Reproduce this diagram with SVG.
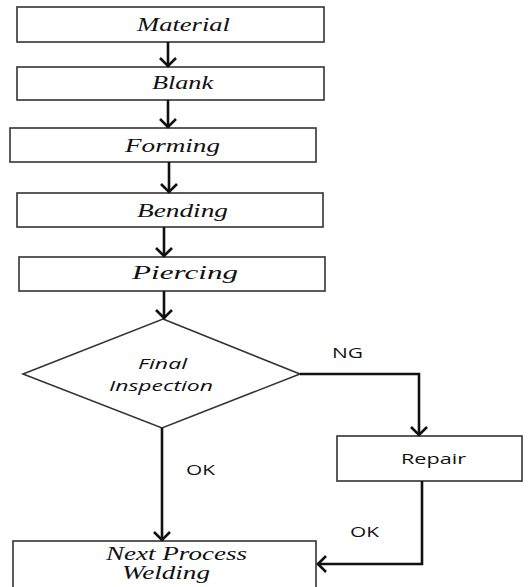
<svg xmlns="http://www.w3.org/2000/svg" width="528" height="587" viewBox="0 0 528 587">
<defs>
<marker id="ah" markerUnits="userSpaceOnUse" markerWidth="24" markerHeight="24" viewBox="-12 -12 24 24" refX="0" refY="0" orient="auto">
<path d="M -9 -8 L -1 0 L -9 8" fill="none" stroke="#111" stroke-width="2.6" stroke-linejoin="miter"/>
</marker>
<style>
.box{fill:#fff;stroke:#333;stroke-width:1.6}
.ser{font-family:"Liberation Serif","Times New Roman",serif;font-style:italic;font-size:19px;fill:#111}
.sans{font-family:"Open Sans","DejaVu Sans",sans-serif;font-size:15px;fill:#111}
.it{font-style:italic}
.con{fill:none;stroke:#111;stroke-width:2.6}
</style>
</defs>
<rect width="528" height="587" fill="#fff"/>
<g id="material"><rect class="box" x="17" y="7" width="307" height="35"/><text class="ser" x="137" y="31" textLength="93" lengthAdjust="spacingAndGlyphs">Material</text></g>
<g id="blank"><rect class="box" x="17" y="67" width="307" height="33"/><text class="ser" x="152" y="89" textLength="61" lengthAdjust="spacingAndGlyphs">Blank</text></g>
<g id="forming"><rect class="box" x="10" y="128" width="306" height="34"/><text class="ser" x="125" y="152" textLength="95" lengthAdjust="spacingAndGlyphs">Forming</text></g>
<g id="bending"><rect class="box" x="17" y="193" width="306" height="34"/><text class="ser" x="137" y="217" textLength="91" lengthAdjust="spacingAndGlyphs">Bending</text></g>
<g id="piercing"><rect class="box" x="19" y="257" width="306" height="34"/><text class="ser" x="132" y="279" textLength="106" lengthAdjust="spacingAndGlyphs">Piercing</text></g>
<g id="inspection"><polygon class="box" points="163,319 300,374 162,428 23,374"/><text class="sans it" x="138" y="369" textLength="49" lengthAdjust="spacingAndGlyphs">Final</text><text class="sans it" x="109" y="391" textLength="104" lengthAdjust="spacingAndGlyphs">Inspection</text></g>
<g id="repair"><rect class="box" x="337" y="436" width="185" height="45"/><text class="sans" x="401" y="464" textLength="65" lengthAdjust="spacingAndGlyphs">Repair</text></g>
<g id="next"><rect class="box" x="13" y="541" width="303" height="60"/><text class="ser" x="106" y="560" textLength="141" lengthAdjust="spacingAndGlyphs">Next Process</text><text class="ser" x="122" y="579" textLength="88" lengthAdjust="spacingAndGlyphs">Welding</text></g>
<g id="connectors">
<path class="con" d="M168 42 V67" marker-end="url(#ah)"/>
<path class="con" d="M168 100 V128" marker-end="url(#ah)"/>
<path class="con" d="M169 162 V193" marker-end="url(#ah)"/>
<path class="con" d="M164 227 V257" marker-end="url(#ah)"/>
<path class="con" d="M164 291 V319" marker-end="url(#ah)"/>
<path class="con" d="M300 374 H419 V436" marker-end="url(#ah)"/>
<path class="con" d="M162 428 V541" marker-end="url(#ah)"/>
<path class="con" d="M422 481 V564 H317" marker-end="url(#ah)"/>
<text class="sans" x="332" y="358" textLength="31" lengthAdjust="spacingAndGlyphs">NG</text>
<text class="sans" x="186" y="475" textLength="29" lengthAdjust="spacingAndGlyphs">OK</text>
<text class="sans" x="350" y="537" textLength="29" lengthAdjust="spacingAndGlyphs">OK</text>
</g>
</svg>
